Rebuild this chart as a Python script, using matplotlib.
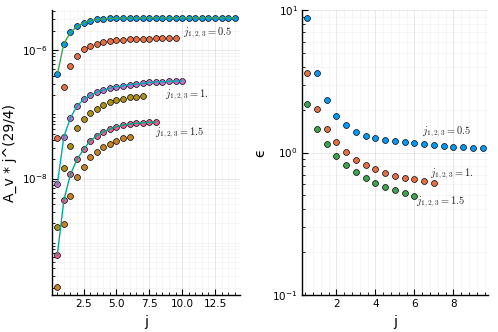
import numpy as np
import matplotlib
matplotlib.use('Agg')
import matplotlib.pyplot as plt
from matplotlib.ticker import LogLocator, FixedLocator, NullFormatter

# ---- left panel: A_v * j^(29/4) ----
j_a05 = np.arange(0.5, 14.01, 0.5)
A_a05 = [4.19e-7, 1.26e-6, 1.89e-6, 2.34e-6, 2.65e-6, 2.86e-6, 2.99e-6, 3.06e-6,
         3.11e-6, 3.13e-6, 3.14e-6, 3.15e-6, 3.15e-6, 3.16e-6, 3.16e-6, 3.16e-6,
         3.16e-6, 3.16e-6, 3.16e-6, 3.17e-6, 3.17e-6, 3.17e-6, 3.17e-6, 3.17e-6,
         3.17e-6, 3.17e-6, 3.17e-6, 3.17e-6]
j_b05 = np.arange(0.5, 9.51, 0.5)
A_b05 = [4.27e-8, 2.69e-7, 5.70e-7, 8.15e-7, 1.03e-6, 1.15e-6, 1.25e-6, 1.32e-6,
         1.37e-6, 1.42e-6, 1.45e-6, 1.47e-6, 1.48e-6, 1.50e-6, 1.51e-6, 1.52e-6,
         1.52e-6, 1.52e-6, 1.52e-6]
j_a10 = np.arange(0.5, 10.01, 0.5)
A_a10 = [8.21e-9, 4.48e-8, 8.83e-8, 1.34e-7, 1.71e-7, 1.97e-7, 2.20e-7, 2.38e-7,
         2.54e-7, 2.69e-7, 2.78e-7, 2.88e-7, 2.96e-7, 3.03e-7, 3.14e-7, 3.18e-7,
         3.21e-7, 3.26e-7, 3.29e-7, 3.29e-7]
j_b10 = np.arange(0.5, 7.01, 0.5)
A_b10 = [1.76e-9, 1.44e-8, 3.21e-8, 6.04e-8, 8.34e-8, 1.06e-7, 1.22e-7, 1.41e-7,
         1.54e-7, 1.65e-7, 1.75e-7, 1.84e-7, 1.88e-7, 1.95e-7]
j_a15 = np.arange(0.5, 8.01, 0.5)
A_a15 = [6.44e-10, 4.63e-9, 1.16e-8, 1.99e-8, 2.85e-8, 3.87e-8, 4.63e-8, 5.35e-8,
         5.89e-8, 6.40e-8, 6.81e-8, 7.05e-8, 7.23e-8, 7.39e-8, 7.50e-8, 7.57e-8]
j_b15 = np.arange(0.5, 6.01, 0.5)
A_b15 = [2.05e-10, 1.94e-9, 5.40e-9, 1.04e-8, 1.53e-8, 2.18e-8, 2.61e-8, 3.06e-8,
         3.44e-8, 3.87e-8, 4.22e-8, 4.37e-8]

# ---- right panel: epsilon ----
j_e05 = np.arange(0.5, 9.51, 0.5)
eps05 = [8.83, 3.63, 2.34, 1.81, 1.56, 1.40, 1.31, 1.258, 1.224, 1.198, 1.179,
         1.166, 1.142, 1.129, 1.112, 1.098, 1.088, 1.081, 1.075]
j_e10 = np.arange(0.5, 7.01, 0.5)
eps10 = [3.59, 2.02, 1.46, 1.179, 1.003, 0.886, 0.817, 0.762, 0.721, 0.687,
         0.665, 0.652, 0.634, 0.614]
j_e15 = np.arange(0.5, 6.01, 0.5)
eps15 = [2.18, 1.46, 1.147, 0.950, 0.822, 0.733, 0.666, 0.614, 0.575, 0.545,
         0.522, 0.497]

labels = ['$j_{1,2,3} = 0.5$', '$j_{1,2,3} = 1.$', '$j_{1,2,3} = 1.5$']
left_label_pos = [(10.1, 1.84e-6), (8.7, 2.0e-7), (7.95, 5.1e-8)]
right_label_pos = [(6.4, 1.39), (6.82, 0.714), (6.1, 0.452)]

pal = ['#009AFA', '#E36F47', '#3EA44E', '#C371D2', '#AC8E18', '#00AAAE',
       '#ED5E93', '#C68225', '#00A98D']


def style(ax):
    for s in ['top', 'right']:
        ax.spines[s].set_visible(False)
    for s in ['left', 'bottom']:
        ax.spines[s].set_linewidth(1.0)
    ax.tick_params(which='major', direction='in', length=4, width=0.8,
                   labelsize=7.5, colors='black', pad=3)
    ax.tick_params(which='minor', direction='in', length=2, width=0.6)
    ax.grid(True, which='major', color='black', alpha=0.1, lw=0.6)
    ax.grid(True, which='minor', color='black', alpha=0.05, lw=0.5)
    ax.set_axisbelow(True)


def pts(ax, x, y, c):
    ax.scatter(x, y, s=18, c=c, edgecolors='black', linewidths=0.5, zorder=3)


fig = plt.figure(figsize=(4.98, 3.32), dpi=100)
ax1 = fig.add_axes([0.1044, 0.1114, 0.3775, 0.8584])
ax2 = fig.add_axes([0.6064, 0.1114, 0.3735, 0.8584])

# left panel
z = 3
groups = [(j_a05, A_a05, j_b05, A_b05), (j_a10, A_a10, j_b10, A_b10),
          (j_a15, A_a15, j_b15, A_b15)]
for g, (ja, Aa, jb, Ab) in enumerate(groups):
    ax1.scatter(ja, Aa, s=18, c=pal[3 * g], edgecolors='black', linewidths=0.5, zorder=z)
    ax1.scatter(jb, Ab, s=18, c=pal[3 * g + 1], edgecolors='black', linewidths=0.5, zorder=z + 1)
    ax1.plot(ja, Aa, color=pal[3 * g + 2], lw=1.0, zorder=z + 2)
    z += 3
    ax1.text(left_label_pos[g][0], left_label_pos[g][1], labels[g], fontsize=7.5,
             math_fontfamily='cm', ha='left', va='center', color='#222222', zorder=20)

ax1.set_yscale('log')
ax1.set_xlim(0.095, 14.405)
ax1.set_ylim(10 ** -9.813, 10 ** -5.377)
ax1.set_xticks([2.5, 5.0, 7.5, 10.0, 12.5])
ax1.set_xticklabels(['2.5', '5.0', '7.5', '10.0', '12.5'])
ax1.xaxis.set_minor_locator(FixedLocator(np.arange(0.5, 14.3, 0.5)))
ax1.yaxis.set_major_locator(FixedLocator([1e-8, 1e-6]))
ax1.yaxis.set_minor_locator(LogLocator(base=10, subs=np.arange(1, 10), numticks=50))
ax1.yaxis.set_minor_formatter(NullFormatter())
ax1.set_xlabel('j', fontsize=10)
ax1.set_ylabel('A_v * j^(29/4)', fontsize=10)
style(ax1)

# right panel
for k, (x, e) in enumerate([(j_e05, eps05), (j_e10, eps10), (j_e15, eps15)]):
    pts(ax2, x, e, pal[k])
    ax2.text(right_label_pos[k][0], right_label_pos[k][1], labels[k], fontsize=7.5,
             math_fontfamily='cm', ha='left', va='center', color='#222222', zorder=20)

ax2.set_yscale('log')
ax2.set_xlim(0.23, 9.77)
ax2.set_ylim(0.1, 10)
ax2.set_xticks([2, 4, 6, 8])
ax2.xaxis.set_minor_locator(FixedLocator(np.arange(0.4, 9.7, 0.4)))
ax2.yaxis.set_major_locator(FixedLocator([0.1, 1, 10]))
ax2.yaxis.set_minor_locator(LogLocator(base=10, subs=np.arange(2, 10), numticks=50))
ax2.yaxis.set_minor_formatter(NullFormatter())
ax2.set_xlabel('j', fontsize=10)
ax2.set_ylabel('ϵ', fontsize=10)
style(ax2)

fig.savefig('out.png', dpi=100)
